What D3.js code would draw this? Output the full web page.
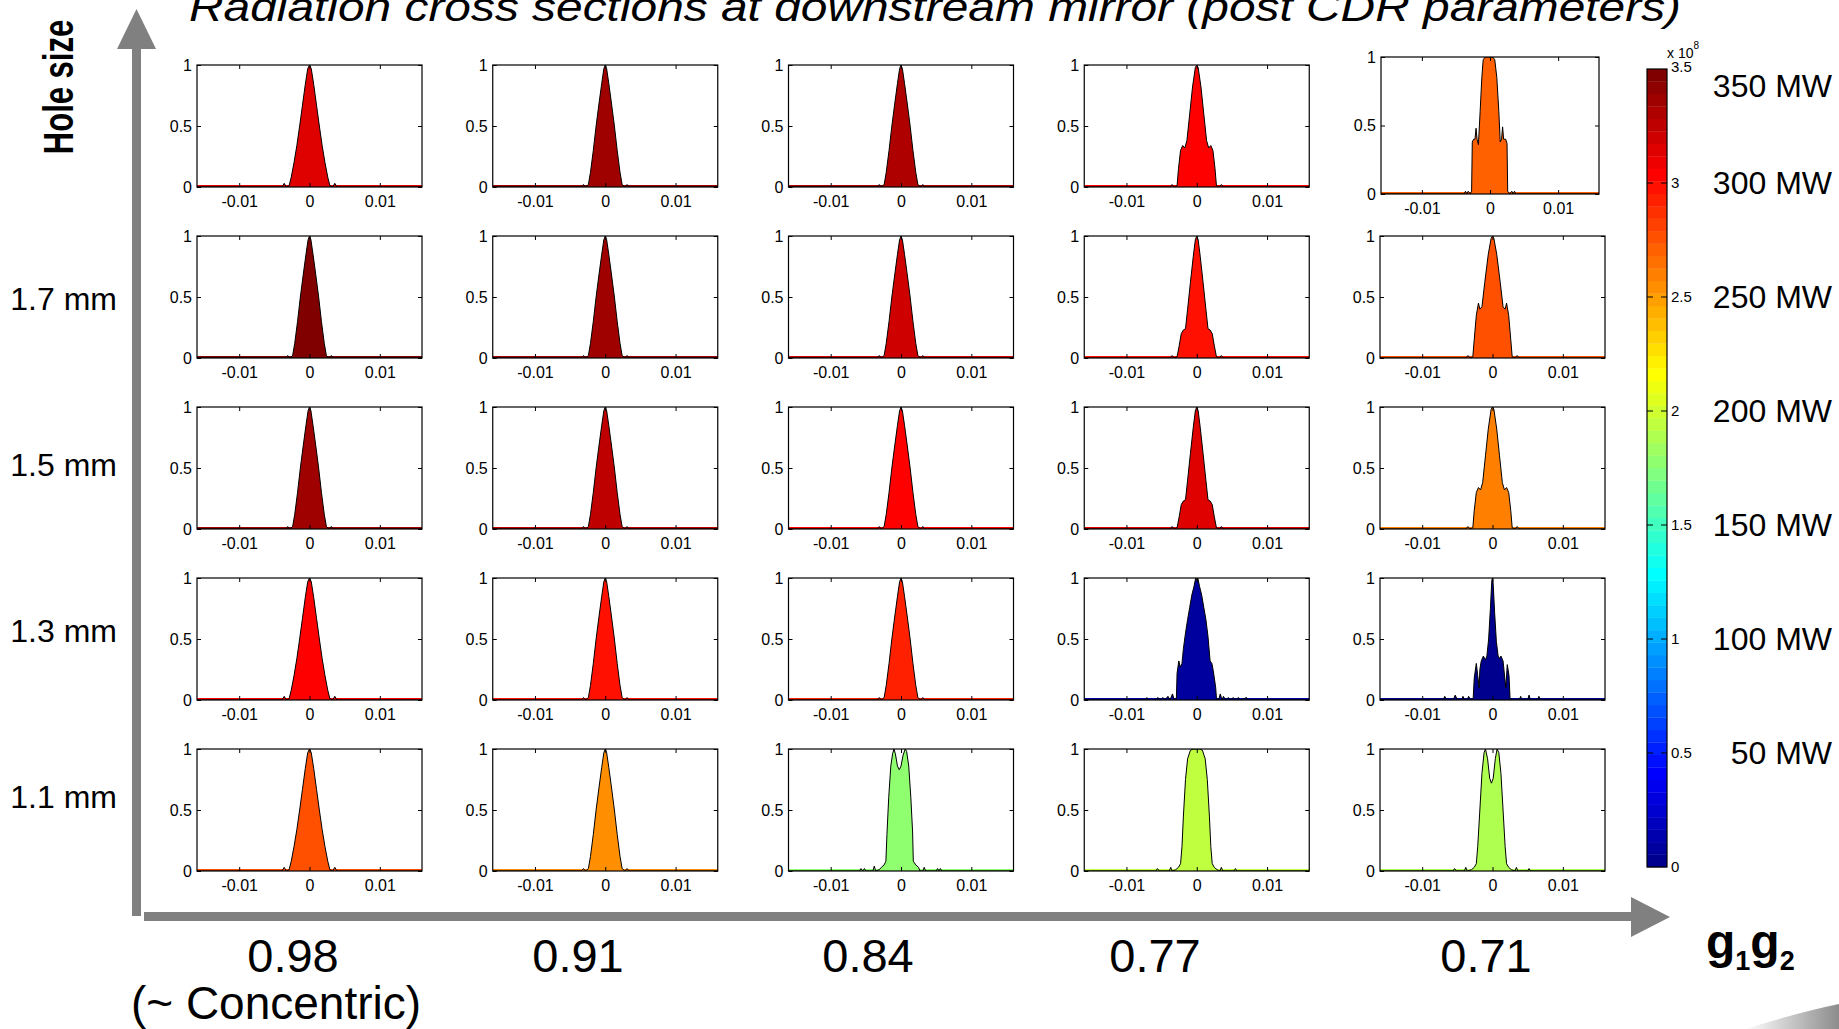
<!DOCTYPE html>
<html>
<head>
<meta charset="utf-8">
<script src="https://cdn.jsdelivr.net/npm/d3@7"></script>
<style>
  body { margin: 0; background: #fff; }
  svg { display: block; font-family: "Liberation Sans", Arial, sans-serif; }
</style>
</head>
<body>
<div id="chart"></div>
<script>

// ---- values ----
var holeSizes = ["", "1.7 mm", "1.5 mm", "1.3 mm", "1.1 mm"]
var g1g2 = ["0.98", "0.91", "0.84", "0.77", "0.71"]

// peak power of each panel in MW
var powerTop = [317, 336, 333, 304, 271]
var power17  = [345, 335, 318, 300, 277]
var power15  = [339, 328, 306, 312, 260]
var power13  = [305, 300, 295, 9, 3]
var power11  = [277, 254, 175, 192, 190]

var xTicks = [-0.01, 0, 0.01]
var yTicks = [0, 0.5, 1]
var cbTicks = [0, 0.5, 1, 1.5, 2, 2.5, 3, 3.5]
var mwLabels = [350, 300, 250, 200, 150, 100, 50]

// profiles: [x in mm, normalised intensity]
var singleA = [[-16,0],[-3.9,0],[-3.6,0.03],[-3.3,0],[-2.9,0.01],[-2.6,0.08],[-2.2,0.2],[-1.8,0.34],[-1.4,0.5],[-1.0,0.67],[-0.6,0.84],[-0.25,0.97],[0,1],[0.25,0.97],[0.6,0.84],[1.0,0.67],[1.4,0.5],[1.8,0.34],[2.2,0.2],[2.6,0.08],[2.9,0.01],[3.3,0],[3.6,0.03],[3.9,0],[16,0]]
var singleB = [[-16,0],[-3.4,0],[-3.1,0.02],[-2.8,0],[-2.4,0.02],[-2.1,0.12],[-1.7,0.3],[-1.3,0.5],[-0.9,0.68],[-0.5,0.85],[-0.2,0.97],[0,1],[0.2,0.97],[0.5,0.85],[0.9,0.68],[1.3,0.5],[1.7,0.3],[2.1,0.12],[2.4,0.02],[2.8,0],[3.1,0.02],[3.4,0],[16,0]]
var shoulderLo = [[-16,0],[-3.8,0],[-3.5,0.02],[-3.2,0],[-2.8,0.01],[-2.5,0.1],[-2.2,0.2],[-1.9,0.23],[-1.6,0.24],[-1.3,0.4],[-0.9,0.62],[-0.5,0.83],[-0.2,0.97],[0,1],[0.2,0.97],[0.5,0.83],[0.9,0.62],[1.3,0.4],[1.6,0.24],[1.9,0.23],[2.2,0.2],[2.5,0.1],[2.8,0.01],[3.2,0],[3.5,0.02],[3.8,0],[16,0]]
var shoulderMid = [[-16,0],[-3.8,0],[-3.5,0.02],[-3.2,0],[-2.8,0.01],[-2.6,0.15],[-2.3,0.3],[-2.0,0.34],[-1.7,0.32],[-1.4,0.38],[-1.0,0.6],[-0.6,0.82],[-0.2,0.98],[0,1],[0.2,0.98],[0.6,0.82],[1.0,0.6],[1.4,0.38],[1.7,0.32],[2.0,0.34],[2.3,0.3],[2.6,0.15],[2.8,0.01],[3.2,0],[3.5,0.02],[3.8,0],[16,0]]
var shoulderHi = [[-16,0],[-3.8,0],[-3.5,0.02],[-3.2,0],[-2.8,0.01],[-2.6,0.15],[-2.3,0.35],[-2.0,0.45],[-1.8,0.4],[-1.5,0.42],[-1.1,0.62],[-0.6,0.85],[-0.2,0.98],[0,1],[0.2,0.98],[0.6,0.85],[1.1,0.62],[1.5,0.42],[1.8,0.4],[2.0,0.45],[2.3,0.35],[2.6,0.15],[2.8,0.01],[3.2,0],[3.5,0.02],[3.8,0],[16,0]]
var flatShoulder = [[-16,0],[-3.8,0],[-3.6,0.02],[-3.4,0],[-3.2,0.02],[-2.9,0],[-2.7,0.02],[-2.6,0.38],[-2.4,0.4],[-2.2,0.4],[-2.05,0.48],[-1.9,0.4],[-1.7,0.36],[-1.45,0.6],[-1.2,0.85],[-1.0,0.98],[-0.7,1],[0.4,1],[0.7,0.98],[1.0,0.85],[1.3,0.6],[1.5,0.38],[1.7,0.4],[1.85,0.49],[2.0,0.4],[2.3,0.4],[2.5,0.37],[2.6,0.02],[2.9,0],[3.2,0.02],[3.4,0],[3.6,0.02],[3.8,0],[16,0]]
var lobes13a = [[-16,0],[-7.3,0],[-7.1,0.02],[-6.9,0],[-6.0,0],[-5.5,0.02],[-5.2,0],[-4.8,0.02],[-4.5,0],[-4.1,0.03],[-3.8,0],[-3.45,0.05],[-3.2,0],[-2.9,0.01],[-2.8,0.22],[-2.55,0.32],[-2.35,0.27],[-2.1,0.3],[-1.9,0.42],[-1.6,0.55],[-1.3,0.66],[-1.0,0.76],[-0.7,0.86],[-0.4,0.93],[-0.15,1],[0,0.98],[0.15,1],[0.4,0.93],[0.7,0.86],[1.0,0.76],[1.3,0.66],[1.6,0.52],[1.9,0.32],[2.15,0.3],[2.35,0.24],[2.7,0.1],[2.8,0.01],[3.1,0],[3.35,0.05],[3.6,0],[3.8,0.03],[4.1,0],[4.5,0.02],[4.8,0],[5.2,0.02],[5.5,0],[5.95,0.02],[6.2,0],[7.1,0.02],[7.3,0],[16,0]]
var lobes13b = [[-16,0],[-7.0,0],[-6.8,0.03],[-6.5,0],[-5.6,0],[-5.3,0.04],[-5.0,0],[-4.4,0],[-4.2,0.03],[-4.0,0],[-3.6,0],[-3.4,0.03],[-3.1,0],[-2.75,0.01],[-2.6,0.18],[-2.3,0.3],[-2.1,0.2],[-1.9,0.1],[-1.8,0.25],[-1.6,0.32],[-1.3,0.36],[-1.0,0.33],[-0.8,0.36],[-0.55,0.5],[-0.3,0.75],[-0.1,0.98],[0,1],[0.1,0.95],[0.3,0.72],[0.55,0.48],[0.8,0.36],[1.0,0.34],[1.2,0.36],[1.5,0.32],[1.75,0.18],[1.9,0.1],[2.1,0.29],[2.35,0.2],[2.5,0.01],[2.8,0],[3.8,0],[4.0,0.03],[4.2,0],[5.0,0],[5.2,0.04],[5.4,0],[6.4,0],[6.6,0.03],[6.8,0],[16,0]]
var double11 = [[-16,0],[-5.9,0],[-5.7,0.02],[-5.45,0],[-5.2,0.02],[-5.0,0],[-4.0,0],[-3.8,0.04],[-3.6,0],[-3.1,0.01],[-2.8,0.03],[-2.4,0.05],[-2.15,0.08],[-2.0,0.3],[-1.75,0.6],[-1.45,0.86],[-1.2,0.96],[-1.0,1],[-0.8,0.96],[-0.5,0.86],[-0.25,0.83],[0.0,0.86],[0.3,0.95],[0.6,1],[0.8,0.98],[1.1,0.86],[1.4,0.6],[1.65,0.32],[1.75,0.08],[2.1,0.05],[2.5,0.03],[2.7,0],[3.1,0],[3.3,0.03],[3.5,0],[5.0,0],[5.2,0.02],[5.4,0],[5.6,0.02],[5.8,0],[16,0]]
var flat11 = [[-16,0],[-5.8,0],[-5.6,0.02],[-5.3,0],[-3.9,0],[-3.7,0.03],[-3.5,0],[-3.0,0.01],[-2.6,0.03],[-2.3,0.06],[-2.1,0.2],[-1.9,0.45],[-1.6,0.75],[-1.3,0.92],[-0.9,0.99],[-0.5,1],[0,1],[0.4,1],[0.8,0.99],[1.2,0.92],[1.5,0.75],[1.8,0.45],[2.0,0.2],[2.2,0.06],[2.5,0.03],[2.9,0.01],[3.3,0],[3.5,0.03],[3.7,0],[5.3,0],[5.5,0.02],[5.7,0],[16,0]]
var dip11 = [[-16,0],[-5.6,0],[-5.4,0.02],[-5.1,0],[-4.0,0],[-3.8,0.03],[-3.6,0],[-3.0,0.01],[-2.6,0.03],[-2.3,0.06],[-2.1,0.2],[-1.8,0.5],[-1.5,0.8],[-1.2,0.97],[-1.0,1],[-0.7,0.92],[-0.4,0.76],[-0.15,0.72],[0.1,0.76],[0.4,0.92],[0.65,1],[0.9,0.97],[1.2,0.8],[1.5,0.5],[1.8,0.2],[2.0,0.06],[2.3,0.03],[2.7,0.01],[3.2,0],[3.4,0.03],[3.6,0],[5.0,0],[5.2,0.02],[5.4,0],[16,0]]

var powers = [powerTop, power17, power15, power13, power11]
var profiles = [
  [singleA, singleB, singleB, shoulderMid, flatShoulder],
  [singleB, singleB, singleB, shoulderLo, shoulderHi],
  [singleB, singleB, singleB, shoulderLo, shoulderMid],
  [singleA, singleB, singleB, lobes13a, lobes13b],
  [singleA, singleB, double11, flat11, dip11]
]

// ---- layout ----
var W = 1839, H = 1029
var cellW = 225, cellH = 122
var col0 = 197, colStep = 295.75
var row0 = 65, rowStep = 171
var g1g2X = [293, 578, 868, 1155, 1486]
var arrowGrey = '#808080'

// MATLAB jet(64)
function jetMap(m) {
  var n = Math.ceil(m / 4)
  var u = []
  for (var i = 1; i <= n; i++) u.push(i / n)
  for (var i = 0; i < n - 1; i++) u.push(1)
  for (var i = n; i >= 1; i--) u.push(i / n)
  var J = []
  for (var i = 0; i < m; i++) J.push([0, 0, 0])
  var g0 = Math.ceil(n / 2) - (m % 4 == 1 ? 1 : 0)
  for (var k = 0; k < u.length; k++) {
    var g = g0 + k + 1, r = g + n, b = g - n
    if (r <= m) J[r - 1][0] = u[k]
    if (g <= m) J[g - 1][1] = u[k]
    if (b >= 1) J[b - 1][2] = u[k]
  }
  return J.map(function(c) { return d3.rgb(c[0] * 255, c[1] * 255, c[2] * 255).formatHex() })
}
var jet = jetMap(64)
var cmax = 350
function powerColor(mw) {
  var idx = Math.floor(mw / cmax * 64)
  return jet[Math.max(0, Math.min(63, idx))]
}

var svg = d3.select('#chart').append('svg')
  .attr('width', W)
  .attr('height', H)

svg.append('rect').attr('width', W).attr('height', H).attr('fill', '#fff')

// title
svg.append('text')
  .attr('x', 935)
  .attr('y', 21)
  .attr('text-anchor', 'middle')
  .attr('font-size', 40)
  .attr('font-style', 'italic')
  .attr('textLength', 1492)
  .attr('lengthAdjust', 'spacingAndGlyphs')
  .text('Radiation cross sections at downstream mirror (post CDR parameters)')

// big grey arrows
svg.append('rect').attr('x', 132).attr('y', 48).attr('width', 9).attr('height', 868).attr('fill', arrowGrey)
svg.append('path').attr('d', 'M117,49 L156,49 L136.5,9 Z').attr('fill', arrowGrey)
svg.append('rect').attr('x', 144).attr('y', 912).attr('width', 1488).attr('height', 9).attr('fill', arrowGrey)
svg.append('path').attr('d', 'M1631,897 L1631,937 L1670,917 Z').attr('fill', arrowGrey)

svg.append('text')
  .attr('transform', 'translate(73,87) rotate(-90) scale(1,1.4)')
  .attr('text-anchor', 'middle')
  .attr('font-size', 31)
  .attr('font-weight', 'bold')
  .text('Hole size')

var rowLabelY = d3.scalePoint().domain(holeSizes.slice(1)).range([298, 796])
svg.selectAll('text.hole')
  .data(holeSizes.slice(1))
  .enter().append('text')
  .attr('class', 'hole')
  .attr('x', 117)
  .attr('y', function(d) { return rowLabelY(d) + 11.5 })
  .attr('text-anchor', 'end')
  .attr('font-size', 32)
  .text(function(d) { return d })

svg.selectAll('text.g1g2')
  .data(g1g2)
  .enter().append('text')
  .attr('class', 'g1g2')
  .attr('x', function(d, i) { return g1g2X[i] })
  .attr('y', 972)
  .attr('text-anchor', 'middle')
  .attr('font-size', 47)
  .text(function(d) { return d })

svg.append('text')
  .attr('x', 276)
  .attr('y', 1019)
  .attr('text-anchor', 'middle')
  .attr('font-size', 46)
  .text('(~ Concentric)')

var gg = svg.append('text')
  .attr('x', 1706)
  .attr('y', 958)
  .attr('font-size', 48)
  .attr('font-weight', 'bold')
gg.append('tspan').text('g')
gg.append('tspan').attr('font-size', 27).attr('dy', 12).text('1')
gg.append('tspan').attr('dy', -12).text('g')
gg.append('tspan').attr('font-size', 27).attr('dy', 12).text('2')

// ---- the 25 panels ----
var defs = svg.append('defs')

powers.forEach(function(rowPowers, r) {
  rowPowers.forEach(function(mw, c) {
    var bx = col0 + c * colStep, by = row0 + r * rowStep, bw = cellW, bh = cellH
    if (r == 0 && c == 4) { bx = 1381; by = 57; bw = 218; bh = 137 }

    var x = d3.scaleLinear().domain([-0.016, 0.016]).range([0, bw])
    var y = d3.scaleLinear().domain([0, 1]).range([bh, 0])

    var g = svg.append('g').attr('transform', 'translate(' + bx + ',' + by + ')')
    var clipId = 'clip' + r + '_' + c
    defs.append('clipPath').attr('id', clipId)
      .append('rect').attr('width', bw).attr('height', bh)

    var prof = profiles[r][c]
    var col = powerColor(mw)

    var area = d3.area()
      .x(function(d) { return x(d[0] / 1000) })
      .y0(bh)
      .y1(function(d) { return y(d[1]) })
    var line = d3.line()
      .x(function(d) { return x(d[0] / 1000) })
      .y(function(d) { return y(d[1]) })

    var pg = g.append('g').attr('clip-path', 'url(#' + clipId + ')')
    pg.append('path').datum(prof)
      .attr('d', area)
      .attr('fill', col)
    pg.append('line')
      .attr('x1', 0).attr('x2', bw)
      .attr('y1', bh - 1).attr('y2', bh - 1)
      .attr('stroke', col).attr('stroke-width', 2)
    pg.append('path').datum(prof)
      .attr('d', line)
      .attr('fill', 'none')
      .attr('stroke', '#000')
      .attr('stroke-width', 1)

    g.append('rect')
      .attr('width', bw).attr('height', bh)
      .attr('fill', 'none')
      .attr('stroke', '#000')
      .attr('stroke-width', 1.2)

    var ax = g.append('g').attr('transform', 'translate(0,' + bh + ')')
      .call(d3.axisBottom(x).tickValues(xTicks).tickSize(-4).tickPadding(9).tickFormat(String))
    var ay = g.append('g')
      .call(d3.axisLeft(y).tickValues(yTicks).tickSize(-4).tickPadding(5).tickFormat(String))
    g.append('g').call(d3.axisTop(x).tickValues(xTicks).tickSize(-4).tickFormat(''))
    g.append('g').attr('transform', 'translate(' + bw + ',0)')
      .call(d3.axisRight(y).tickValues(yTicks).tickSize(-4).tickFormat(''))

    g.selectAll('.domain').remove()
    g.selectAll('.tick line').attr('stroke', '#000')
    ax.selectAll('text').attr('font-size', 16).attr('font-family', '"Liberation Sans", Arial, sans-serif').attr('fill', '#000')
    ay.selectAll('text').attr('font-size', 16).attr('font-family', '"Liberation Sans", Arial, sans-serif').attr('fill', '#000')
  })
})

// ---- colour bar ----
var cbX = 1647, cbW = 20
var cs = d3.scaleLinear().domain([0, 3.5]).range([867, 69])
var cb = svg.append('g')
cb.selectAll('rect.band')
  .data(jet)
  .enter().append('rect')
  .attr('class', 'band')
  .attr('x', cbX)
  .attr('width', cbW)
  .attr('y', function(d, i) { return cs((i + 1) * 3.5 / 64) })
  .attr('height', function(d, i) { return cs(i * 3.5 / 64) - cs((i + 1) * 3.5 / 64) + 0.3 })
  .attr('fill', function(d) { return d })
cb.append('rect')
  .attr('x', cbX).attr('y', cs(3.5))
  .attr('width', cbW).attr('height', cs(0) - cs(3.5))
  .attr('fill', 'none').attr('stroke', '#000').attr('stroke-width', 1.2)

cbTicks.forEach(function(t) {
  if (t > 0 && t < 3.5) {
    cb.append('line').attr('x1', cbX).attr('x2', cbX + 6).attr('y1', cs(t)).attr('y2', cs(t)).attr('stroke', '#000')
    cb.append('line').attr('x1', cbX + cbW - 6).attr('x2', cbX + cbW).attr('y1', cs(t)).attr('y2', cs(t)).attr('stroke', '#000')
  }
  cb.append('text')
    .attr('x', cbX + cbW + 4)
    .attr('y', t == 3.5 ? cs(t) - 2 : cs(t))
    .attr('dy', '0.35em')
    .attr('font-size', 15)
    .text(String(t))
})
var xl = cb.append('text').attr('x', 1667).attr('y', 58).attr('font-size', 14)
xl.append('tspan').text('x 10')
xl.append('tspan').attr('font-size', 10).attr('dy', -9).text('8')

svg.selectAll('text.mw')
  .data(mwLabels)
  .enter().append('text')
  .attr('class', 'mw')
  .attr('x', 1832)
  .attr('y', function(d) { return Math.max(cs(d / 100) + 11, 97) })
  .attr('text-anchor', 'end')
  .attr('font-size', 32)
  .text(function(d) { return d + ' MW' })

// slide decoration in the corner
var gr = defs.append('linearGradient').attr('id', 'swoosh').attr('x1', 0).attr('x2', 1).attr('y1', 0).attr('y2', 0)
gr.append('stop').attr('offset', 0).attr('stop-color', '#fff')
gr.append('stop').attr('offset', 1).attr('stop-color', '#8c8c8c')
svg.append('path')
  .attr('d', 'M1745,1029 Q1800,1012 1839,1004 L1839,1029 Z')
  .attr('fill', 'url(#swoosh)')

</script>
</body>
</html>
